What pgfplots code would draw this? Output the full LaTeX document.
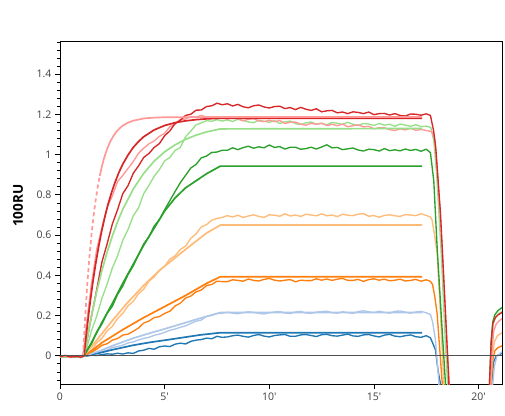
\documentclass[border=0pt]{standalone}
\usepackage{fontspec}
\setmainfont{Open Sans}
\usepackage{pgfplots}
\pgfplotsset{compat=1.18}
\definecolor{cB}{HTML}{1F77B4}
\definecolor{cLB}{HTML}{AEC7E8}
\definecolor{cO}{HTML}{FF7F0E}
\definecolor{cLO}{HTML}{FFBB78}
\definecolor{cG}{HTML}{2CA02C}
\definecolor{cLG}{HTML}{98DF8A}
\definecolor{cR}{HTML}{D62728}
\definecolor{cP}{HTML}{FF9896}
\definecolor{zline}{HTML}{505050}
\begin{document}
\begin{tikzpicture}[x=1pt,y=1pt]
\path[use as bounding box] (-60,-31) rectangle (445,384);
\begin{axis}[
  at={(0,0)}, anchor=south west,
  scale only axis, width=442pt, height=343pt,
  xmin=0, xmax=21.12, ymin=-0.14, ymax=1.565,
  xtick={0,5,10,15,20},
  xticklabels={0,5\textquotesingle,10\textquotesingle,15\textquotesingle,20\textquotesingle},
  ytick={0,0.2,0.4,0.6,0.8,1,1.2,1.4},
  yticklabels={0,0.2,0.4,0.6,0.8,1,1.2,1.4},
  minor ytick={-0.12,-0.08,...,1.56},
  tick align=outside, xtick pos=bottom, ytick pos=left,
  major tick length=5pt, minor tick length=3pt,
  every tick/.style={black, line width=0.8pt},
  ticklabel style={font=\fontsize{10.5}{12}\selectfont, text=black!75},
  axis line style={line width=0.8pt},
  ylabel={100RU},
  ylabel style={font=\bfseries\fontsize{13.5}{15}\selectfont, at={(axis description cs:-0.095,0.52)}, anchor=center},
  data/.style={line width=1.35pt},
  fit/.style={line width=1.7pt},
]
% ---------------- data curves ----------------
\addplot[data, cB] coordinates {(0,-0.004)(0.25,0.001)(0.5,-0.005)(0.75,-0.002)(1.0,-0.006)(1.2,0)(1.25,-0.002)(1.5,0.003)(1.75,0.002)(2.0,0.006)(2.25,0.010)(2.5,0.008)(2.75,0.013)(3.0,0.009)(3.25,0.015)(3.5,0.012)(3.75,0.024)(4.0,0.028)(4.25,0.037)(4.5,0.033)(4.75,0.045)(5.0,0.049)(5.25,0.046)(5.5,0.058)(5.75,0.063)(6.0,0.059)(6.25,0.072)(6.5,0.078)(6.75,0.081)(7.0,0.088)(7.25,0.085)(7.5,0.097)(7.75,0.092)
(8.0,0.094)(8.25,0.100)(8.5,0.103)(8.75,0.097)(9.0,0.093)(9.25,0.101)(9.5,0.106)(9.75,0.098)(10.0,0.094)(10.25,0.101)(10.5,0.104)(10.75,0.106)(11.0,0.097)(11.25,0.097)(11.5,0.104)(11.75,0.106)(12.0,0.101)(12.25,0.096)(12.5,0.105)(12.75,0.107)(13.0,0.100)(13.25,0.098)(13.5,0.103)(13.75,0.108)(14.0,0.099)(14.25,0.097)(14.5,0.104)(14.75,0.106)(15.0,0.099)(15.25,0.094)(15.5,0.103)(15.75,0.107)(16.0,0.098)(16.25,0.095)(16.5,0.100)(16.75,0.104)(17.0,0.095)(17.25,0.092)(17.5,0.100)
(17.7,0.09)(17.8,0.065)(17.94,0.03)(18.06,-0.07)(18.18,-0.14)(18.22,-0.3)(20.55,-0.3)(20.62,-0.14)(20.72,-0.03)(20.85,0.0)(21.12,0.012)};
\addplot[data, cLB] coordinates {(0,-0.006)(0.25,-0.002)(0.5,-0.004)(0.75,0.001)(1.0,-0.005)(1.2,0)(1.25,0.001)(1.5,0.006)(1.75,0.013)(2.0,0.022)(2.25,0.028)(2.5,0.041)(2.75,0.046)(3.0,0.053)(3.25,0.064)(3.5,0.069)(3.75,0.079)(4.0,0.087)(4.25,0.092)(4.5,0.102)(4.75,0.108)(5.0,0.117)(5.25,0.127)(5.5,0.133)(5.75,0.142)(6.0,0.149)(6.25,0.161)(6.5,0.172)(6.75,0.178)(7.0,0.196)(7.25,0.201)(7.5,0.210)(7.75,0.212)
(8.0,0.217)(8.25,0.212)(8.5,0.209)(8.75,0.215)(9.0,0.219)(9.25,0.216)(9.5,0.211)(9.75,0.208)(10.0,0.214)(10.25,0.218)(10.5,0.220)(10.75,0.213)(11.0,0.210)(11.25,0.218)(11.5,0.221)(11.75,0.213)(12.0,0.211)(12.25,0.217)(12.5,0.220)(12.75,0.222)(13.0,0.214)(13.25,0.212)(13.5,0.219)(13.75,0.215)(14.0,0.211)(14.25,0.220)(14.5,0.224)(14.75,0.219)(15.0,0.215)(15.25,0.222)(15.5,0.216)(15.75,0.212)(16.0,0.221)(16.25,0.223)(16.5,0.217)(16.75,0.212)(17.0,0.218)(17.25,0.221)(17.5,0.214)
(17.7,0.205)(17.8,0.17)(17.94,0.08)(18.1,-0.13)(18.15,-0.3)(20.6,-0.3)(20.68,-0.14)(20.76,-0.05)(20.88,0.0)(21.12,0.02)};
\addplot[data, cO] coordinates {(0,-0.003)(0.25,-0.007)(0.5,-0.002)(0.75,-0.006)(1.0,-0.001)(1.15,0)(1.25,0.002)(1.5,0.017)(1.75,0.033)(2.0,0.052)(2.25,0.060)(2.5,0.078)(2.75,0.086)(3.0,0.103)(3.25,0.108)(3.5,0.122)(3.75,0.138)(4.0,0.163)(4.25,0.173)(4.5,0.190)(4.75,0.195)(5.0,0.211)(5.25,0.222)(5.5,0.248)(5.75,0.262)(6.0,0.287)(6.25,0.297)(6.5,0.318)(6.75,0.327)(7.0,0.349)(7.25,0.355)(7.5,0.371)(7.75,0.369)
(8.0,0.369)(8.25,0.378)(8.5,0.375)(8.75,0.371)(9.0,0.382)(9.25,0.375)(9.5,0.372)(9.75,0.380)(10.0,0.385)(10.25,0.376)(10.5,0.372)(10.75,0.376)(11.0,0.379)(11.25,0.368)(11.5,0.376)(11.75,0.374)(12.0,0.374)(12.25,0.383)(12.5,0.376)(12.75,0.382)(13.0,0.375)(13.25,0.381)(13.5,0.385)(13.75,0.375)(14.0,0.375)(14.25,0.380)(14.5,0.370)(14.75,0.379)(15.0,0.383)(15.25,0.376)(15.5,0.381)(15.75,0.373)(16.0,0.376)(16.25,0.381)(16.5,0.372)(16.75,0.375)(17.0,0.380)(17.25,0.371)(17.5,0.378)
(17.7,0.37)(17.8,0.355)(17.9,0.3)(18.02,0.21)(18.26,-0.13)(18.32,-0.3)(20.52,-0.3)(20.6,-0.14)(20.68,-0.02)(20.78,0.025)(20.92,0.04)(21.12,0.05)};
\addplot[data, cLO] coordinates {(0,-0.005)(0.25,0.000)(0.5,-0.007)(0.75,-0.003)(1.0,-0.004)(1.15,0)(1.25,0.007)(1.5,0.027)(1.75,0.064)(2.0,0.087)(2.25,0.124)(2.5,0.146)(2.75,0.186)(3.0,0.211)(3.25,0.249)(3.5,0.270)(3.75,0.309)(4.0,0.331)(4.25,0.371)(4.5,0.392)(4.75,0.424)(5.0,0.446)(5.25,0.481)(5.5,0.497)(5.75,0.529)(6.0,0.546)(6.25,0.584)(6.5,0.606)(6.75,0.641)(7.0,0.652)(7.25,0.674)(7.5,0.683)(7.75,0.688)
(8.0,0.697)(8.25,0.690)(8.5,0.699)(8.75,0.688)(9.0,0.695)(9.25,0.701)(9.5,0.693)(9.75,0.688)(10.0,0.701)(10.25,0.699)(10.5,0.694)(10.75,0.706)(11.0,0.695)(11.25,0.700)(11.5,0.693)(11.75,0.704)(12.0,0.700)(12.25,0.696)(12.5,0.706)(12.75,0.696)(13.0,0.700)(13.25,0.692)(13.5,0.704)(13.75,0.699)(14.0,0.697)(14.25,0.704)(14.5,0.707)(14.75,0.694)(15.0,0.697)(15.25,0.689)(15.5,0.698)(15.75,0.701)(16.0,0.696)(16.25,0.693)(16.5,0.702)(16.75,0.700)(17.0,0.697)(17.25,0.706)(17.5,0.698)
(17.7,0.69)(17.78,0.675)(17.9,0.6)(18.02,0.51)(18.18,0.21)(18.34,-0.14)(18.4,-0.3)(20.5,-0.3)(20.58,-0.14)(20.66,0.0)(20.76,0.07)(20.9,0.1)(21.12,0.115)};
\addplot[data, cG] coordinates {(0,-0.002)(0.25,-0.006)(0.5,-0.001)(0.75,-0.008)(1.0,-0.003)(1.15,0)(1.25,0.012)(1.5,0.057)(1.75,0.118)(2.0,0.157)(2.25,0.211)(2.5,0.246)(2.75,0.305)(3.0,0.347)(3.25,0.404)(3.5,0.447)(3.75,0.503)(4.0,0.556)(4.25,0.592)(4.5,0.645)(4.75,0.677)(5.0,0.726)(5.25,0.772)(5.5,0.817)(5.75,0.861)(6.0,0.897)(6.25,0.934)(6.5,0.951)(6.75,0.984)(7.0,0.993)(7.25,1.011)(7.5,1.013)(7.75,1.022)
(8.0,1.022)(8.25,1.034)(8.5,1.025)(8.75,1.035)(9.0,1.042)(9.25,1.032)(9.5,1.039)(9.75,1.034)(10.0,1.048)(10.25,1.036)(10.5,1.040)(10.75,1.028)(11.0,1.037)(11.25,1.037)(11.5,1.027)(11.75,1.030)(12.0,1.037)(12.25,1.028)(12.5,1.038)(12.75,1.049)(13.0,1.034)(13.25,1.036)(13.5,1.025)(13.75,1.029)(14.0,1.033)(14.25,1.023)(14.5,1.018)(14.75,1.027)(15.0,1.025)(15.25,1.018)(15.5,1.030)(15.75,1.020)(16.0,1.024)(16.25,1.019)(16.5,1.028)(16.75,1.021)(17.0,1.026)(17.25,1.017)(17.5,1.027)
(17.7,1.01)(17.86,0.87)(18.02,0.54)(18.26,0.13)(18.42,-0.14)(18.48,-0.3)(20.45,-0.3)(20.52,-0.14)(20.6,0.07)(20.68,0.17)(20.78,0.205)(20.93,0.225)(21.12,0.24)};
\addplot[data, cLG] coordinates {(0,-0.004)(0.25,-0.008)(0.5,-0.003)(0.75,-0.005)(1.0,-0.009)(1.15,0)(1.25,0.028)(1.5,0.124)(1.75,0.196)(2.0,0.285)(2.25,0.356)(2.5,0.436)(2.75,0.497)(3.0,0.574)(3.25,0.628)(3.5,0.696)(3.75,0.735)(4.0,0.806)(4.25,0.847)(4.5,0.893)(4.75,0.926)(5.0,0.969)(5.25,0.986)(5.5,1.021)(5.75,1.036)(6.0,1.089)(6.25,1.117)(6.5,1.148)(6.75,1.158)(7.0,1.169)(7.25,1.166)(7.5,1.174)(7.75,1.167)
(8.0,1.173)(8.25,1.165)(8.5,1.176)(8.75,1.170)(9.0,1.163)(9.25,1.159)(9.5,1.171)(9.75,1.166)(10.0,1.161)(10.25,1.169)(10.5,1.155)(10.75,1.163)(11.0,1.167)(11.25,1.154)(11.5,1.150)(11.75,1.158)(12.0,1.162)(12.25,1.151)(12.5,1.156)(12.75,1.148)(13.0,1.160)(13.25,1.156)(13.5,1.150)(13.75,1.161)(14.0,1.151)(14.25,1.145)(14.5,1.155)(14.75,1.152)(15.0,1.145)(15.25,1.155)(15.5,1.147)(15.75,1.151)(16.0,1.141)(16.25,1.152)(16.5,1.147)(16.75,1.141)(17.0,1.149)(17.25,1.139)(17.5,1.142)
(17.72,1.135)(17.86,1.07)(18.0,0.9)(18.22,0.5)(18.42,0.05)(18.52,-0.14)(18.58,-0.3)(20.48,-0.3)(20.55,-0.14)(20.62,0.05)(20.7,0.16)(20.82,0.195)(20.97,0.21)(21.12,0.22)};
\addplot[data, cP] coordinates {(0,-0.006)(0.25,-0.001)(0.5,-0.008)(0.75,-0.003)(1.0,-0.005)(1.1,0)(1.25,0.145)(1.5,0.355)(1.75,0.527)(2.0,0.636)(2.25,0.738)(2.5,0.795)(2.75,0.866)(3.0,0.897)(3.25,0.931)(3.5,0.966)(3.75,1.006)(4.0,1.032)(4.25,1.054)(4.5,1.068)(4.75,1.091)(5.0,1.106)(5.25,1.139)(5.5,1.152)(5.75,1.176)(6.0,1.177)(6.25,1.189)(6.5,1.186)(6.75,1.195)(7.0,1.187)(7.25,1.189)(7.5,1.182)(7.75,1.184)
(8.0,1.177)(8.25,1.185)(8.5,1.178)(8.75,1.168)(9.0,1.176)(9.25,1.179)(9.5,1.168)(9.75,1.164)(10.0,1.171)(10.25,1.164)(10.5,1.170)(10.75,1.155)(11.0,1.161)(11.25,1.162)(11.5,1.152)(11.75,1.146)(12.0,1.156)(12.25,1.151)(12.5,1.156)(12.75,1.145)(13.0,1.151)(13.25,1.144)(13.5,1.152)(13.75,1.139)(14.0,1.144)(14.25,1.148)(14.5,1.138)(14.75,1.141)(15.0,1.129)(15.25,1.134)(15.5,1.134)(15.75,1.124)(16.0,1.120)(16.25,1.128)(16.5,1.123)(16.75,1.131)(17.0,1.121)(17.25,1.125)(17.5,1.120)
(17.75,1.115)(17.9,1.08)(18.02,0.94)(18.26,0.54)(18.5,0.046)(18.6,-0.14)(18.66,-0.3)(20.5,-0.3)(20.57,-0.14)(20.65,0.04)(20.73,0.125)(20.85,0.16)(21.0,0.175)(21.12,0.185)};
\addplot[data, cR] coordinates {(0,-0.004)(0.25,0.002)(0.5,-0.006)(0.75,-0.002)(1.0,-0.007)(1.1,-0.003)(1.15,0)(1.25,0.058)(1.5,0.195)(1.75,0.326)(2.0,0.465)(2.25,0.556)(2.5,0.655)(2.75,0.726)(3.0,0.806)(3.25,0.846)(3.5,0.907)(3.75,0.944)(4.0,0.986)(4.25,1.006)(4.5,1.036)(4.75,1.055)(5.0,1.094)(5.25,1.118)(5.5,1.155)(5.75,1.171)(6.0,1.195)(6.25,1.201)(6.5,1.221)(6.75,1.222)(7.0,1.239)(7.25,1.243)(7.5,1.256)(7.75,1.248)
(8.0,1.253)(8.25,1.242)(8.5,1.250)(8.75,1.238)(9.0,1.233)(9.25,1.243)(9.5,1.247)(9.75,1.237)(10.0,1.232)(10.25,1.239)(10.5,1.241)(10.75,1.229)(11.0,1.234)(11.25,1.224)(11.5,1.235)(11.75,1.226)(12.0,1.220)(12.25,1.228)(12.5,1.213)(12.75,1.218)(13.0,1.220)(13.25,1.208)(13.5,1.212)(13.75,1.204)(14.0,1.213)(14.25,1.210)(14.5,1.204)(14.75,1.212)(15.0,1.199)(15.25,1.204)(15.5,1.205)(15.75,1.197)(16.0,1.204)(16.25,1.195)(16.5,1.192)(16.75,1.202)(17.0,1.201)(17.25,1.196)(17.5,1.203)
(17.7,1.195)(17.85,1.12)(17.95,1.04)(18.18,0.71)(18.42,0.21)(18.58,-0.13)(18.65,-0.3)(20.45,-0.3)(20.52,-0.14)(20.6,0.06)(20.68,0.16)(20.8,0.19)(20.95,0.205)(21.12,0.215)};
% ---------------- fitted curves ----------------
\addplot[fit, cB] coordinates {(1.2,0)(1.91,0.015)(2.5,0.03)(3.51,0.053)(4.3,0.067)(5.1,0.079)(6.7,0.104)(7.66,0.115)(17.3,0.115)};
\addplot[fit, cLB] coordinates {(1.2,0)(1.91,0.025)(2.5,0.05)(3.51,0.088)(4.3,0.113)(5.1,0.137)(6.7,0.187)(7.66,0.215)(17.3,0.215)};
\addplot[fit, cO] coordinates {(1.2,0)(2,0.065)(3,0.13)(4,0.19)(5,0.245)(6,0.3)(7,0.36)(7.66,0.393)(17.3,0.393)};
\addplot[fit, cLO] coordinates {(1.15,0)(1.5,0.045)(2.0,0.11)(2.5,0.175)(3.19,0.26)(4.0,0.35)(4.78,0.427)(5.65,0.50)(6.38,0.56)(7.0,0.61)(7.66,0.65)(17.3,0.65)};
\addplot[fit, cG] coordinates {(1.15,0)(1.5,0.065)(2.0,0.165)(2.5,0.26)(3.0,0.36)(3.5,0.455)(4.0,0.55)(4.5,0.635)(5.0,0.72)(5.5,0.785)(6.0,0.835)(6.5,0.87)(7.0,0.905)(7.66,0.943)(17.3,0.943)};
\addplot[fit, cLG] coordinates {(1.15,0)(1.3,0.089)(1.5,0.197)(1.75,0.317)(2.0,0.423)(2.25,0.515)(2.5,0.595)(2.75,0.666)(3.0,0.728)(3.5,0.829)(4.0,0.907)(4.5,0.968)(5.0,1.014)(5.5,1.049)(6.0,1.076)(6.5,1.097)(7.0,1.113)(7.66,1.128)(17.3,1.13)};
\addplot[fit, cR] coordinates {(1.15,0)(1.25,0.100)(1.4,0.234)(1.55,0.352)(1.7,0.455)(1.85,0.545)(2.0,0.624)(2.15,0.693)(2.3,0.755)(2.45,0.807)(2.6,0.854)(2.8,0.908)(3.0,0.953)(3.25,0.998)(3.5,1.036)(3.75,1.065)(4.0,1.089)(4.5,1.123)(5.0,1.145)(5.5,1.159)(6.0,1.168)(6.5,1.174)(7.0,1.178)(7.66,1.181)(17.3,1.181)};
\addplot[fit, cP, dash pattern=on 4pt off 3pt] coordinates {(1.1,0)(1.2,0.19)(1.3,0.35)(1.4,0.484)(1.5,0.597)(1.6,0.692)(1.7,0.771)(1.8,0.838)(1.9,0.894)};
\addplot[fit, cP] coordinates {(1.9,0.894)(2.0,0.941)(2.1,0.981)(2.25,1.028)(2.4,1.065)(2.55,1.093)(2.7,1.115)(2.85,1.131)(3.0,1.144)(3.25,1.159)(3.5,1.169)(4.0,1.180)(4.5,1.184)(5.0,1.186)(7.66,1.187)(17.3,1.187)};
% zero line
\addplot[zline, line width=1pt] coordinates {(0,0)(21.12,0)};
\end{axis}
\end{tikzpicture}
\end{document}
